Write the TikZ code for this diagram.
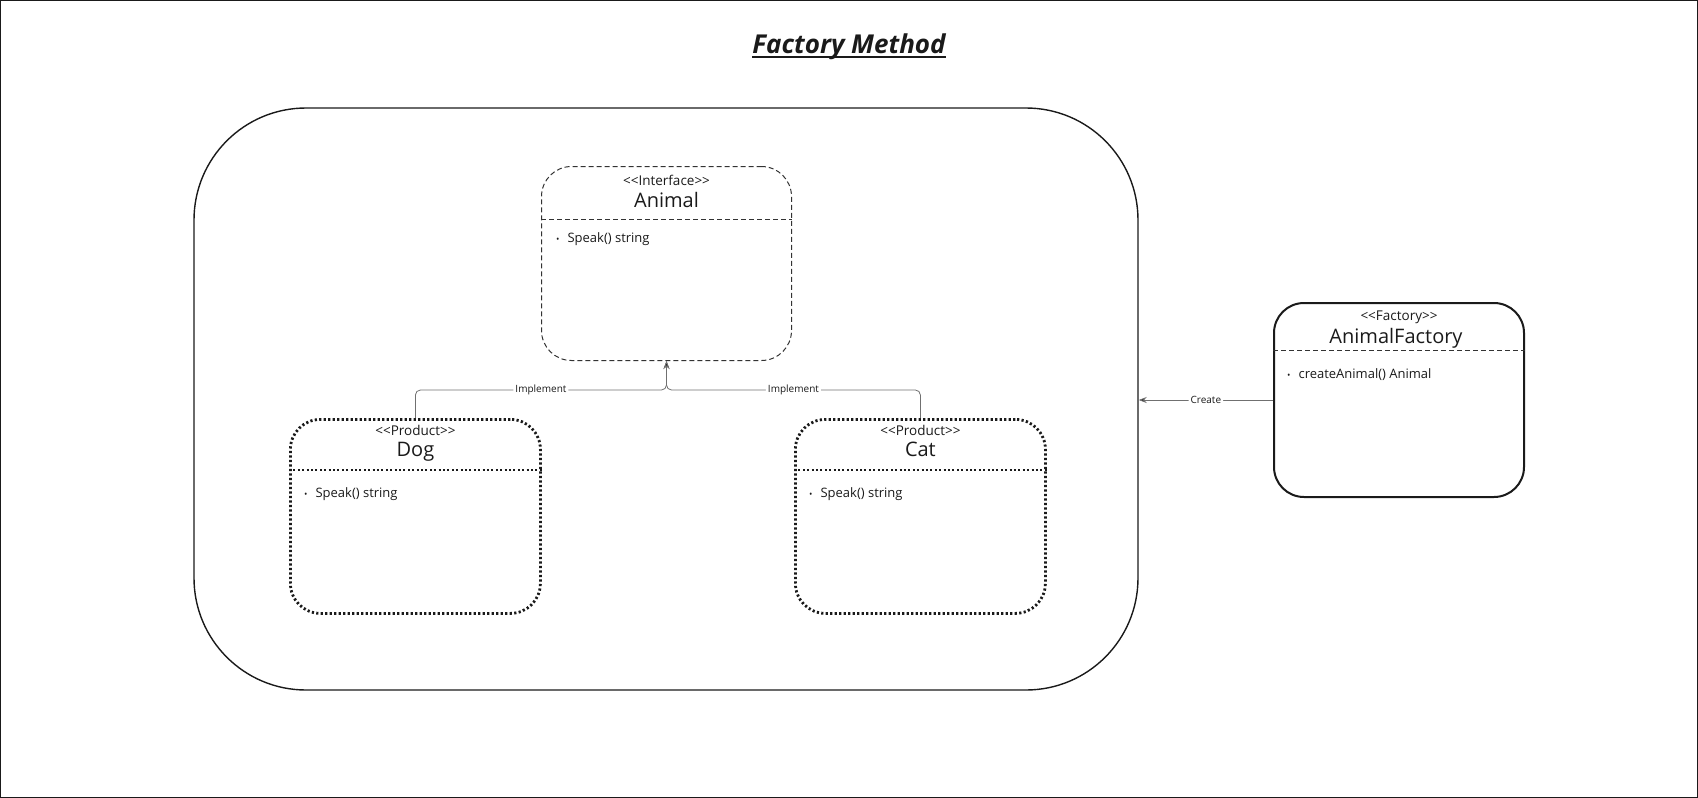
\documentclass[tikz,border=0pt]{standalone}
\usepackage{fontspec}
\setmainfont{Open Sans}
\usetikzlibrary{positioning,calc,arrows.meta}

\definecolor{ink}{HTML}{1A1A1A}
\definecolor{edge}{HTML}{333333}
\definecolor{wire}{HTML}{707070}

\begin{document}
\begin{tikzpicture}[x=1pt, y=-1pt,
  box/.style = {rectangle, inner sep=0pt, anchor=north west,
    minimum width=250pt, minimum height=194pt, rounded corners=30pt},
  iface/.style = {box, draw=edge, line width=1pt, dash pattern=on 5pt off 3pt},
  product/.style = {box, draw=ink, line width=2.8pt, dash pattern=on 2.2pt off 2.3pt},
  factory/.style = {box, draw=ink, line width=2pt},
  stereo/.style = {font=\fontsize{13.5}{15}\selectfont, text=ink, anchor=base, inner sep=0pt},
  cname/.style = {font=\fontsize{20}{23}\selectfont, text=ink, anchor=base, inner sep=0pt},
  member/.style = {font=\fontsize{13}{15}\selectfont, text=ink, anchor=base west, inner sep=0pt},
  conn/.style = {draw=wire, line width=0.8pt, rounded corners=5pt,
    -{Stealth[length=8pt, width=6pt, fill=ink]}},
  lbl/.style = {fill=white, text=ink, font=\fontsize{10}{12}\selectfont, inner sep=2pt}]

  \useasboundingbox (0,0) rectangle (1698,798);
  \draw[ink, line width=1.2pt] (0.6,0.6) rectangle (1697.4,797.4);

  % title
  \node[font=\fontsize{26}{30}\selectfont\bfseries\itshape, text=ink,
    inner sep=0pt, anchor=base] (title) at (849,53) {Factory Method};
  \draw[ink, line width=1.6pt] ([yshift=-4pt]title.base west) -- ([yshift=-4pt]title.base east);

  % package around the products
  \node[draw=ink, line width=1.4pt, rounded corners=112pt,
    minimum width=944pt, minimum height=582pt] (pkg) at (666,399) {};

  % classes
  \node[iface] (animal) at (541,166) {};
  \node[stereo] (animal-st) at ($(animal.north)+(0,19)$) {{<}{<}Interface{>}{>}};
  \node[cname] (animal-nm) at ($(animal.north)+(0,41)$) {Animal};
  \draw[edge, line width=1pt, dash pattern=on 5pt off 3pt]
    ($(animal.north west)+(0,53)$) -- ($(animal.north east)+(0,53)$);
  \node[member] (animal-m1) at ($(animal.north west)+(15,76)$)
    {{\fontsize{9}{9}\selectfont\textbullet}\hspace{8pt}Speak() string};

  \node[product] (dog) at (289,418) {};
  \node[stereo] (dog-st) at ($(dog.north)+(0,17)$) {{<}{<}Product{>}{>}};
  \node[cname] (dog-nm) at ($(dog.north)+(0,38)$) {Dog};
  \draw[ink, line width=2.4pt, dash pattern=on 2pt off 2.4pt]
    ($(dog.north west)+(0,52)$) -- ($(dog.north east)+(0,52)$);
  \node[member] (dog-m1) at ($(dog.north west)+(15,79)$)
    {{\fontsize{9}{9}\selectfont\textbullet}\hspace{8pt}Speak() string};

  \node[product] (cat) at (794,418) {};
  \node[stereo] (cat-st) at ($(cat.north)+(0,17)$) {{<}{<}Product{>}{>}};
  \node[cname] (cat-nm) at ($(cat.north)+(0,38)$) {Cat};
  \draw[ink, line width=2.4pt, dash pattern=on 2pt off 2.4pt]
    ($(cat.north west)+(0,52)$) -- ($(cat.north east)+(0,52)$);
  \node[member] (cat-m1) at ($(cat.north west)+(15,79)$)
    {{\fontsize{9}{9}\selectfont\textbullet}\hspace{8pt}Speak() string};

  \node[factory] (fac) at (1273,302) {};
  \node[stereo] (fac-st) at ($(fac.north)+(0,18)$) {{<}{<}Factory{>}{>}};
  \node[cname] (fac-nm) at ($(fac.north)+(-3,41)$) {AnimalFactory};
  \draw[edge, line width=1pt, dash pattern=on 5pt off 3pt]
    ($(fac.north west)+(0,48)$) -- ($(fac.north east)+(0,48)$);
  \node[member] (fac-m1) at ($(fac.north west)+(14,76)$)
    {{\fontsize{9}{9}\selectfont\textbullet}\hspace{8pt}createAnimal() Animal};

  % relations
  \draw[conn] (dog.north) |- ($(animal.south)+(0,29)$)
    node[lbl, pos=0.75] (dog-impl) {Implement} -- (animal.south);
  \draw[conn] (cat.north) |- ($(animal.south)+(0,29)$)
    node[lbl, pos=0.75] (cat-impl) {Implement} -- (animal.south);
  \draw[conn] (fac.west) -- (fac.west -| pkg.east)
    node[lbl, midway] (create-lbl) {Create};
\end{tikzpicture}
\end{document}
